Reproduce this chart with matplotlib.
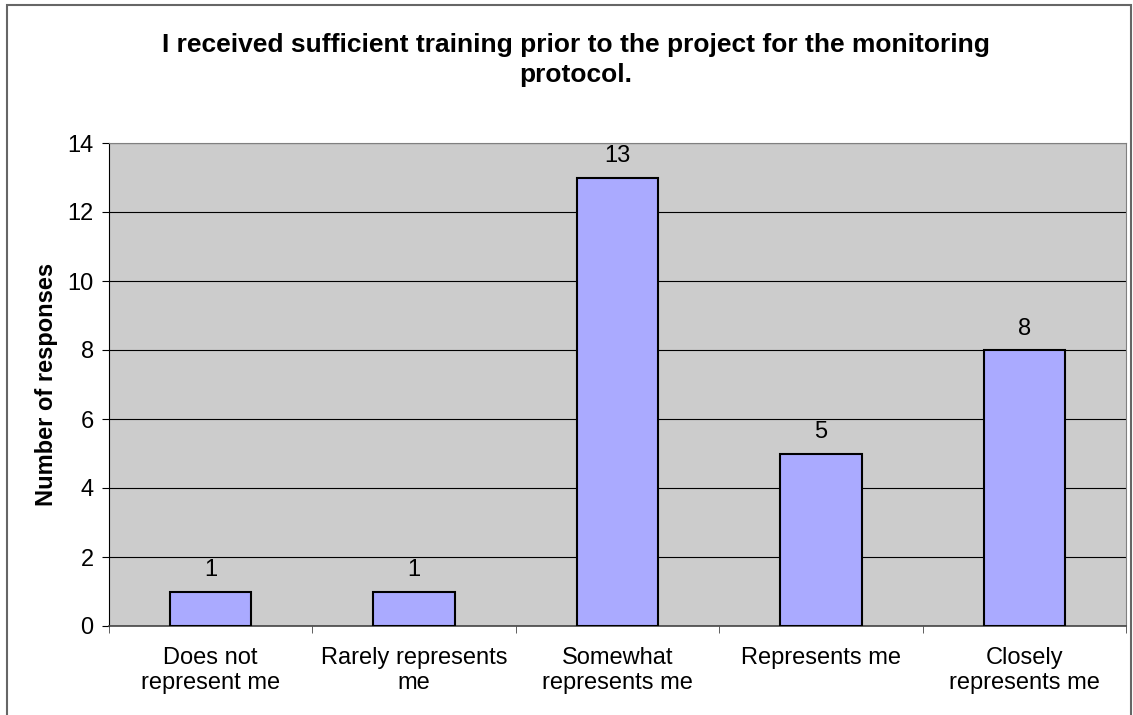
import matplotlib.pyplot as plt
from matplotlib.patches import Rectangle

categories = ["Does not\nrepresent me", "Rarely represents\nme", "Somewhat\nrepresents me",
              "Represents me", "Closely\nrepresents me"]
responses = [1, 1, 13, 5, 8]
yticks = [0, 2, 4, 6, 8, 10, 12, 14]
title = "I received sufficient training prior to the project for the monitoring\nprotocol."

plt.rcParams['font.family'] = ['Liberation Sans', 'DejaVu Sans']

W, H = 1133, 715
fig = plt.figure(figsize=(W / 100, H / 100), dpi=100)
fig.patches.append(Rectangle((7 / W, -0.05), (1131 - 7) / W, 1.05 - 5 / H,
                             transform=fig.transFigure, fill=False,
                             edgecolor='#666666', linewidth=1.5))

left, right, top, bottom = 109, 1126, 143, 626
ax = fig.add_axes([left / W, 1 - bottom / H, (right - left) / W, (bottom - top) / H])
ax.set_facecolor('#cccccc')

fs = 17
x = list(range(len(categories)))
bars = ax.bar(x, responses, width=0.4, color='#aaaaff', edgecolor='black', linewidth=1.5, zorder=3)
for xi, v in zip(x, responses):
    ax.text(xi, v + 0.3, str(v), ha='center', va='bottom', fontsize=fs)

ax.set_xlim(-0.5, len(categories) - 0.5)
ax.set_ylim(0, 14)
ax.set_yticks(yticks)
ax.yaxis.grid(True, color='black', linewidth=0.8, zorder=1)
ax.set_axisbelow(True)

ax.set_xticks(x)
ax.set_xticklabels(categories, fontsize=fs, linespacing=1.2)
ax.set_xticks([i + 0.5 for i in range(-1, len(categories))], minor=True)
ax.tick_params(axis='x', which='major', length=0, pad=15)
ax.tick_params(axis='x', which='minor', length=5, direction='out', color='#444444')
ax.tick_params(axis='y', length=5, direction='out', labelsize=fs, pad=6)

for s in ['top', 'right']:
    ax.spines[s].set_color('#808080')
ax.spines['left'].set_color('black')
ax.spines['bottom'].set_color('#444444')
ax.spines['bottom'].set_linewidth(1.2)

ax.set_ylabel("Number of responses", fontsize=fs, fontweight='bold', labelpad=7)
fig.text(576 / W, 1 - 60 / H, title, ha='center', va='center', fontsize=19,
         fontweight='bold', linespacing=1.35)

fig.savefig("out.png", dpi=100)
